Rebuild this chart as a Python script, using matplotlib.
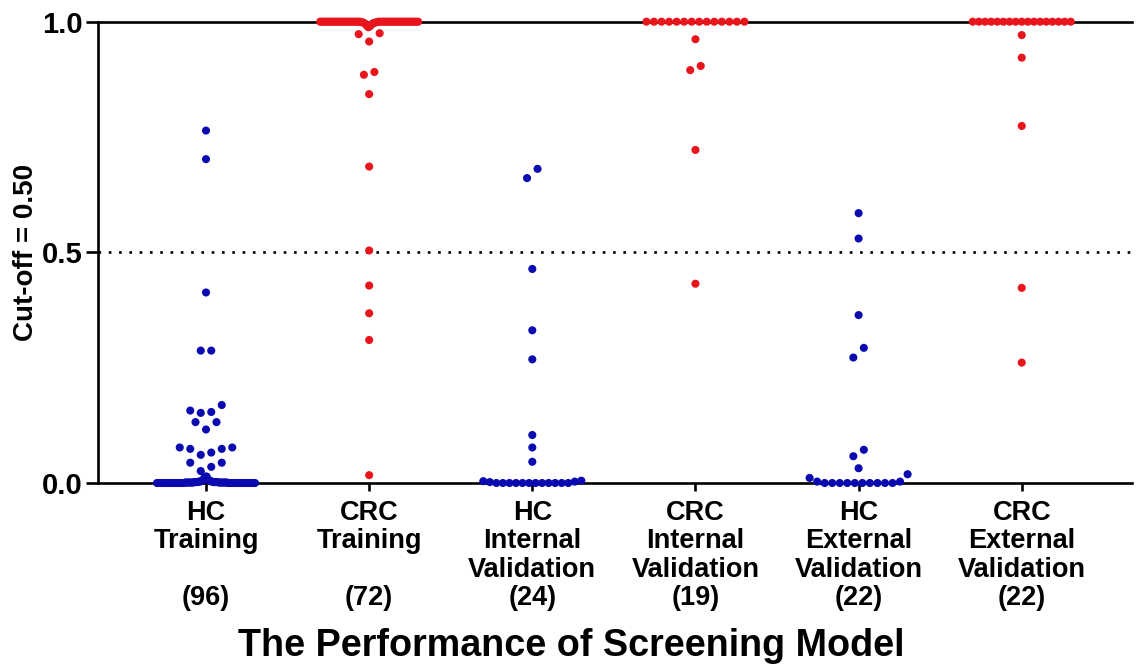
import numpy as np
import matplotlib
matplotlib.use("Agg")
import matplotlib.pyplot as plt

plt.rcParams['font.family'] = ['Liberation Sans', 'DejaVu Sans']
plt.rcParams['font.weight'] = 'bold'

# ---------------- data ----------------
categories = ["HC\nTraining\n\n(96)", "CRC\nTraining\n\n(72)",
              "HC\nInternal\nValidation\n(24)", "CRC\nInternal\nValidation\n(19)",
              "HC\nExternal\nValidation\n(22)", "CRC\nExternal\nValidation\n(22)"]

hc_training = [0.764, 0.702, 0.413, 0.287, 0.287, 0.169, 0.157, 0.154, 0.152, 0.132,
               0.132, 0.116, 0.077, 0.077, 0.074, 0.074, 0.066, 0.061, 0.044, 0.044,
               0.035, 0.026, 0.014, 0.014,
               0.000, 0.000, 0.001, 0.000, 0.002, 0.000, 0.001, 0.000, 0.003, 0.000,
               0.000, 0.001, 0.000, 0.002, 0.000, 0.000, 0.001, 0.000, 0.004, 0.000,
               0.001, 0.000, 0.000, 0.002, 0.000, 0.001, 0.000, 0.000, 0.003, 0.000,
               0.000, 0.001, 0.000, 0.000, 0.002, 0.000, 0.001, 0.000, 0.000, 0.005,
               0.000, 0.000, 0.001, 0.000, 0.002, 0.000, 0.000, 0.001, 0.000, 0.003,
               0.000, 0.001, 0.000, 0.000, 0.002, 0.000, 0.006, 0.000, 0.001, 0.000,
               0.000, 0.002, 0.000, 0.001, 0.000, 0.000, 0.004, 0.000, 0.001, 0.000,
               0.008, 0.010]

crc_training = [0.975, 0.973, 0.957, 0.891, 0.885, 0.843, 0.686, 0.504, 0.428, 0.368,
                0.310, 0.017,
                0.988, 0.990, 0.992, 0.994, 0.996, 0.997, 0.998, 0.998, 0.999, 0.999,
                1.000, 1.000, 1.000, 1.000, 1.000, 1.000, 1.000, 1.000, 1.000, 1.000,
                1.000, 1.000, 1.000, 1.000, 1.000, 1.000, 1.000, 1.000, 1.000, 1.000,
                1.000, 1.000, 1.000, 1.000, 1.000, 1.000, 1.000, 1.000, 1.000, 1.000,
                1.000, 1.000, 1.000, 1.000, 1.000, 1.000, 1.000, 1.000, 1.000, 1.000,
                1.000, 1.000, 1.000, 1.000, 1.000, 1.000, 1.000, 1.000, 1.000, 1.000]

hc_internal = [0.681, 0.661, 0.464, 0.331, 0.268, 0.104, 0.077, 0.046,
               0.000, 0.000, 0.000, 0.000, 0.000, 0.000, 0.000, 0.000,
               0.000, 0.000, 0.000, 0.000, 0.002, 0.003, 0.004, 0.005]

crc_internal = [0.962, 0.904, 0.895, 0.722, 0.432,
                1.000, 1.000, 1.000, 1.000, 1.000, 1.000, 1.000,
                1.000, 1.000, 1.000, 1.000, 1.000, 1.000, 1.000]

hc_external = [0.585, 0.530, 0.364, 0.293, 0.272, 0.072, 0.058, 0.032,
               0.019, 0.011, 0.003, 0.003,
               0.000, 0.000, 0.000, 0.000, 0.000, 0.000, 0.000, 0.000, 0.000, 0.000]

crc_external = [0.971, 0.922, 0.774, 0.423, 0.261,
                1.000, 1.000, 1.000, 1.000, 1.000, 1.000, 1.000, 1.000, 1.000,
                1.000, 1.000, 1.000, 1.000, 1.000, 1.000, 1.000, 1.000]

groups = [hc_training, crc_training, hc_internal, crc_internal, hc_external, crc_external]
BLUE = '#0a0ab0'
RED = '#e8161c'
group_colors = [BLUE, RED, BLUE, RED, BLUE, RED]

cutoff = 0.5
yticks = [0.0, 0.5, 1.0]
ytick_labels = ["0.0", "0.5", "1.0"]

# ---------------- figure ----------------
W, H = 1143, 667
fig = plt.figure(figsize=(W / 100, H / 100), dpi=100)
ax_l, ax_r, ax_t, ax_b = 98, 1132, 21.7, 483
ax = fig.add_axes([ax_l / W, 1 - ax_b / H, (ax_r - ax_l) / W, (ax_b - ax_t) / H])

x_first, x_step = 206, 163.15
xmin = (ax_l - x_first) / x_step
xmax = (ax_r - x_first) / x_step
ax.set_xlim(xmin, xmax)
ax.set_ylim(0, 1)
px_per_x = x_step


def row_layout(vals, h=0.022, max_w_px=98.0, step_px=10.5):
    v = np.sort(np.asarray(vals, dtype=float))
    rows, cur = [], [v[0]]
    for val in v[1:]:
        if val - cur[0] <= h:
            cur.append(val)
        else:
            rows.append(cur)
            cur = [val]
    rows.append(cur)
    xs, ys = [], []
    for r in rows:
        n = len(r)
        s = step_px if n < 2 else min(step_px, max_w_px / (n - 1))
        pos = (np.arange(n) - (n - 1) / 2) * s
        order = sorted(range(n), key=lambda i: (abs(pos[i]), pos[i]))
        r = np.asarray(r)
        if s < step_px and n > 20:
            med = np.median(r)
            r = r[np.argsort(-np.abs(r - med), kind='stable')]
        for val, i in zip(r, order):
            xs.append(pos[i] / px_per_x)
            ys.append(val)
    return np.array(xs), np.array(ys)


for gi, (vals, col) in enumerate(zip(groups, group_colors)):
    dx, ys = row_layout(vals)
    ax.scatter(gi + dx, ys, s=34, color=col, edgecolors='none', zorder=4, clip_on=False)

ax.axhline(cutoff, color='black', lw=1.9, linestyle=(0, (1, 2.9)), zorder=1)

for side in ['left', 'bottom', 'top']:
    ax.spines[side].set_linewidth(1.9)
    ax.spines[side].set_color('black')
ax.spines['right'].set_visible(False)

ax.set_yticks(yticks)
ax.set_yticklabels(ytick_labels, fontsize=21, fontweight='bold')
ax.tick_params(axis='y', length=9, width=1.9, pad=2)
ax.set_xticks(range(len(categories)))
ax.set_xticklabels(categories, fontsize=19.5, fontweight='bold', linespacing=1.13)
ax.tick_params(axis='x', length=6, width=1.9, pad=6)

ax.set_ylabel("Cut-off = 0.50", fontsize=20, fontweight='bold', labelpad=2)
fig.text(0.5, 1 - 646 / H, "The Performance of Screening Model", ha='center', va='center',
         fontsize=27.2, fontweight='bold')

fig.savefig('out.png', dpi=100)
